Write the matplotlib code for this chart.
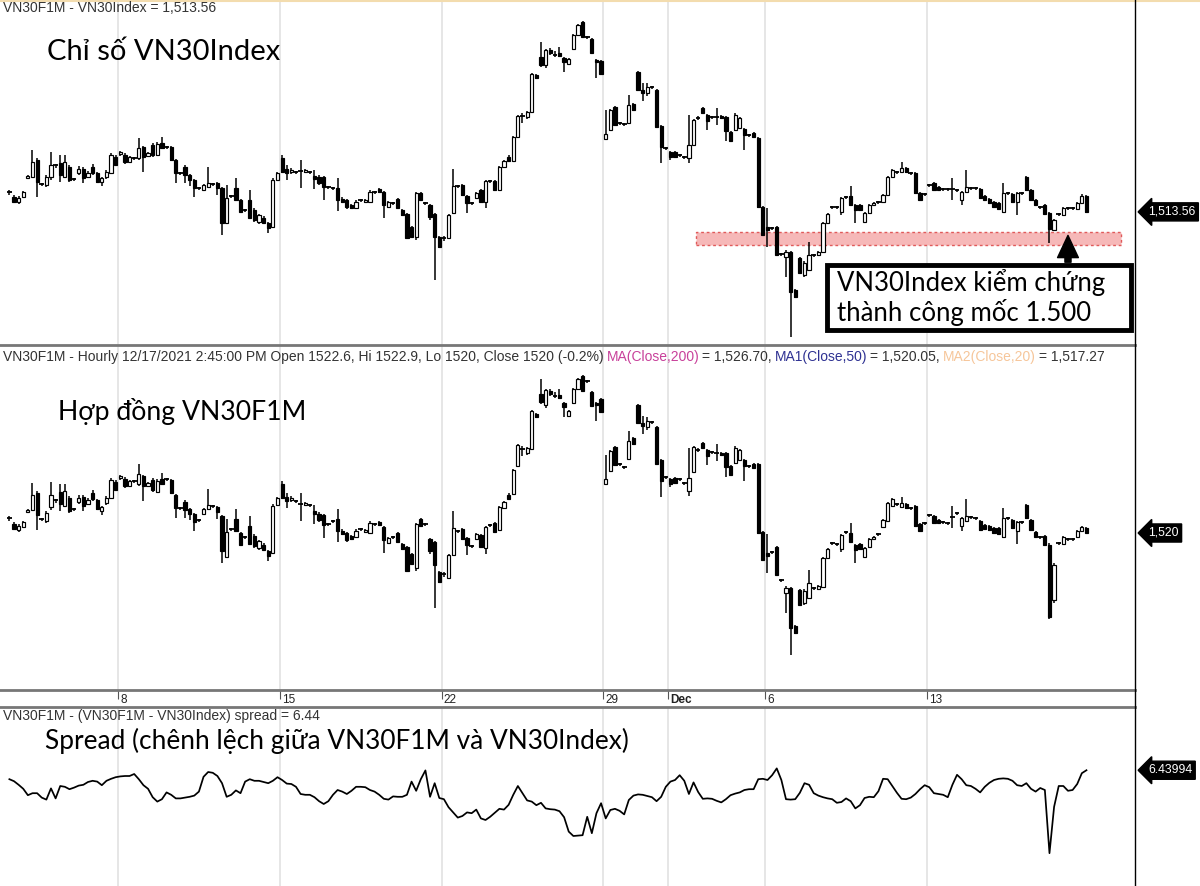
import matplotlib
matplotlib.use("Agg")
import matplotlib.pyplot as plt
from matplotlib.patches import Rectangle
from matplotlib.lines import Line2D
import matplotlib.transforms as mtransforms

W, H = 1200, 886

# ---------------------------------------------------------------- data
# hourly bars, Nov 3 - Dec 17 2021; one row of each list per week block
day_labels = ["8", "15", "22", "29", "Dec", "6", "13"]
day_breaks = [23.5, 58.5, 93.5, 128.5, 142.5, 163.5, 198.5]

vn30_open = [
    1523.5, 1521.0, 1518.5, 1521.0, 1530.5, 1531.0, 1539.5, 1527.5, 1527.0, 1531.0, 1537.0, 1538.0, 1531.0, 1536.0, 1530.0, 1533.0, 1535.0, 1531.0, 1536.0, 1533.0, 1528.5, 1531.0, 1533.0, 1541.0,
    1542.5, 1542.0, 1538.5, 1540.5, 1540.5, 1546.0, 1541.5, 1547.0, 1542.0, 1548.0, 1546.0, 1546.0, 1539.5, 1533.0, 1536.0, 1532.0, 1529.5, 1525.5, 1524.5, 1526.0, 1527.5, 1528.0, 1525.5, 1508.0, 1521.5, 1525.5, 1519.5, 1514.5, 1519.5, 1514.5, 1508.5, 1510.5, 1508.0, 1506.0, 1529.5,
    1540.5, 1535.0, 1533.5, 1533.5, 1533.5, 1533.5, 1533.5, 1531.5, 1531.0, 1531.0, 1526.0, 1525.5, 1525.5, 1520.0, 1519.5, 1517.0, 1515.5, 1519.5, 1518.5, 1518.5, 1523.5, 1525.0, 1523.5, 1516.0, 1518.0, 1520.0, 1514.5, 1512.5, 1506.0, 1501.0, 1523.0, 1518.0, 1517.0, 1512.5, 1501.0,
    1500.0, 1500.5, 1513.0, 1526.5, 1527.0, 1521.5, 1518.0, 1520.5, 1524.5, 1518.5, 1529.0, 1529.0, 1524.5, 1536.0, 1541.0, 1539.0, 1551.0, 1561.5, 1561.0, 1563.5, 1582.0, 1591.0, 1587.0, 1594.5, 1592.0, 1593.0, 1590.5, 1587.5, 1595.0, 1602.0, 1608.5, 1601.0, 1600.0, 1589.5, 1589.0,
    1550.0, 1554.5, 1566.0, 1558.0, 1557.5, 1558.0, 1567.5, 1583.5, 1574.5, 1573.0, 1576.0, 1574.5, 1556.5, 1545.5,
    1543.5, 1543.5, 1542.0, 1541.0, 1540.5, 1547.0, 1560.5, 1565.5, 1562.0, 1561.0, 1561.0, 1561.5, 1561.0, 1553.5, 1554.5, 1555.5, 1555.0, 1552.0, 1553.0, 1550.5, 1516.0,
    1506.0, 1505.5, 1506.0, 1492.5, 1491.0, 1493.5, 1474.5, 1490.5, 1482.0, 1484.5, 1492.0, 1492.0, 1493.5, 1508.0, 1516.0, 1515.5, 1513.5, 1520.5, 1521.5, 1517.0, 1517.0, 1508.5, 1513.0, 1517.0, 1518.0, 1518.5, 1522.0, 1531.0, 1533.5, 1533.5, 1535.5, 1533.0, 1533.0, 1523.0, 1522.5,
    1527.0, 1528.0, 1526.0, 1525.0, 1524.5, 1525.0, 1524.5, 1519.5, 1523.5, 1525.5, 1525.5, 1525.0, 1521.5, 1520.0, 1518.5, 1518.0, 1513.5, 1523.0, 1522.5, 1518.5, 1523.0, 1531.0, 1524.5, 1519.5, 1516.0, 1517.0, 1513.0, 1504.5, 1512.5, 1512.0, 1515.5, 1515.0, 1515.0, 1518.0, 1521.5,
]
vn30_close = [
    1523.0, 1518.5, 1520.5, 1523.5, 1531.5, 1538.5, 1528.5, 1527.0, 1531.0, 1537.0, 1536.5, 1532.0, 1538.5, 1529.5, 1529.5, 1535.0, 1530.5, 1533.0, 1533.0, 1528.5, 1530.5, 1533.5, 1542.0, 1537.0,
    1543.5, 1538.5, 1541.0, 1540.0, 1545.5, 1541.0, 1543.0, 1542.0, 1547.5, 1545.5, 1545.5, 1539.5, 1533.0, 1532.5, 1532.0, 1529.5, 1525.5, 1525.0, 1527.0, 1528.0, 1527.0, 1525.5, 1508.0, 1520.5, 1521.0, 1519.5, 1513.5, 1514.0, 1510.5, 1509.5, 1512.0, 1508.0, 1505.5, 1529.5, 1533.0,
    1533.5, 1533.0, 1534.5, 1533.0, 1534.0, 1534.5, 1533.0, 1530.0, 1528.0, 1526.0, 1525.5, 1525.0, 1519.5, 1518.5, 1516.0, 1515.5, 1518.5, 1519.0, 1519.5, 1523.5, 1523.0, 1523.5, 1517.0, 1518.5, 1517.5, 1515.5, 1512.0, 1500.5, 1501.0, 1523.0, 1519.5, 1517.5, 1511.0, 1501.0, 1496.0,
    1500.5, 1512.0, 1526.5, 1526.0, 1522.0, 1518.0, 1517.5, 1523.0, 1518.5, 1529.0, 1528.5, 1524.5, 1536.0, 1539.0, 1539.0, 1551.0, 1561.5, 1561.0, 1563.5, 1582.5, 1580.5, 1587.0, 1594.5, 1593.0, 1591.5, 1591.5, 1588.5, 1590.0, 1602.0, 1607.0, 1601.0, 1600.5, 1593.0, 1588.5, 1582.5,
    1552.5, 1564.5, 1557.0, 1557.5, 1557.0, 1567.0, 1564.5, 1574.5, 1573.0, 1576.0, 1575.5, 1556.0, 1546.0, 1545.0,
    1541.0, 1541.0, 1541.5, 1540.5, 1547.0, 1559.5, 1560.0, 1563.0, 1559.0, 1560.5, 1560.5, 1560.5, 1554.0, 1549.0, 1562.0, 1560.5, 1552.0, 1551.5, 1551.0, 1516.0, 1502.0,
    1504.5, 1505.0, 1492.0, 1492.0, 1493.5, 1473.5, 1471.0, 1483.0, 1488.0, 1492.0, 1491.5, 1493.5, 1508.0, 1512.5, 1515.5, 1516.0, 1520.5, 1521.0, 1517.0, 1514.5, 1514.5, 1513.0, 1517.0, 1518.0, 1518.5, 1522.0, 1531.0, 1534.5, 1533.0, 1535.5, 1533.5, 1532.5, 1523.0, 1519.5, 1522.0,
    1526.5, 1524.5, 1524.5, 1524.5, 1525.0, 1524.5, 1524.0, 1523.5, 1526.0, 1525.0, 1525.0, 1520.5, 1519.5, 1518.0, 1516.0, 1515.0, 1523.0, 1522.5, 1518.5, 1523.0, 1522.5, 1524.5, 1519.5, 1517.0, 1515.5, 1512.5, 1505.0, 1509.5, 1512.0, 1515.5, 1515.0, 1515.5, 1518.0, 1521.5, 1513.56,
]
vn30_high = [
    1524.5, 1522.0, 1521.5, 1524.0, 1532.0, 1544.5, 1540.5, 1528.0, 1532.0, 1543.5, 1537.5, 1542.0, 1542.0, 1537.0, 1530.5, 1536.5, 1536.0, 1534.0, 1537.5, 1533.5, 1531.0, 1534.5, 1543.0, 1542.0,
    1544.0, 1543.0, 1541.5, 1541.0, 1550.5, 1546.5, 1543.5, 1548.0, 1548.5, 1551.0, 1546.5, 1546.5, 1540.0, 1533.5, 1537.0, 1532.5, 1530.0, 1526.0, 1527.5, 1536.0, 1528.0, 1528.5, 1526.0, 1527.0, 1522.0, 1530.5, 1520.0, 1515.0, 1524.5, 1515.5, 1512.5, 1511.5, 1508.5, 1530.5, 1533.5,
    1542.0, 1537.0, 1535.5, 1534.0, 1539.5, 1535.0, 1534.0, 1534.5, 1532.0, 1531.5, 1526.5, 1526.0, 1530.5, 1521.0, 1520.0, 1517.5, 1519.5, 1520.0, 1520.0, 1524.5, 1524.0, 1525.5, 1524.0, 1519.0, 1518.5, 1520.5, 1515.0, 1513.0, 1506.5, 1523.5, 1523.5, 1518.5, 1517.5, 1513.0, 1501.5,
    1501.5, 1512.5, 1535.0, 1527.0, 1527.5, 1522.0, 1518.5, 1523.5, 1525.0, 1529.5, 1529.5, 1529.5, 1536.5, 1539.5, 1542.0, 1551.5, 1562.0, 1563.0, 1564.0, 1583.0, 1582.5, 1598.5, 1595.0, 1595.5, 1594.0, 1596.0, 1591.0, 1590.5, 1602.5, 1607.5, 1609.0, 1601.5, 1600.5, 1590.0, 1589.5,
    1564.5, 1565.0, 1566.5, 1558.5, 1558.0, 1572.0, 1568.0, 1584.0, 1578.0, 1578.0, 1576.5, 1575.0, 1557.0, 1546.0,
    1544.0, 1544.0, 1542.5, 1541.5, 1562.0, 1560.0, 1561.5, 1566.0, 1562.5, 1561.5, 1565.5, 1562.0, 1561.5, 1554.0, 1563.0, 1561.0, 1555.5, 1552.5, 1553.5, 1551.0, 1516.5,
    1515.5, 1506.0, 1506.5, 1493.0, 1494.5, 1494.0, 1475.0, 1491.0, 1489.0, 1498.5, 1492.5, 1494.0, 1508.5, 1513.0, 1516.5, 1516.5, 1521.0, 1521.5, 1526.5, 1517.5, 1517.5, 1513.5, 1517.5, 1518.5, 1519.0, 1522.5, 1531.5, 1535.0, 1534.0, 1538.5, 1536.0, 1533.5, 1533.5, 1523.5, 1523.0,
    1527.5, 1528.5, 1526.5, 1525.5, 1525.5, 1530.5, 1525.0, 1524.0, 1534.5, 1526.0, 1526.0, 1525.5, 1522.0, 1520.5, 1519.0, 1518.5, 1528.0, 1523.5, 1523.0, 1523.5, 1523.5, 1531.5, 1525.0, 1520.0, 1516.5, 1517.5, 1513.5, 1510.0, 1513.0, 1516.0, 1516.0, 1516.0, 1518.5, 1522.5, 1522.0,
]
vn30_low = [
    1522.0, 1518.0, 1517.5, 1520.5, 1530.0, 1530.5, 1521.0, 1526.5, 1526.0, 1529.5, 1535.5, 1528.5, 1530.5, 1528.5, 1529.0, 1532.0, 1528.0, 1530.5, 1532.0, 1528.0, 1526.5, 1530.0, 1532.5, 1536.5,
    1541.5, 1537.5, 1538.0, 1539.5, 1539.5, 1533.5, 1541.0, 1541.0, 1541.5, 1545.0, 1545.0, 1539.0, 1528.0, 1532.0, 1528.0, 1526.5, 1521.0, 1524.5, 1524.0, 1525.5, 1526.5, 1522.0, 1502.0, 1507.5, 1520.5, 1519.0, 1513.0, 1513.5, 1510.0, 1508.5, 1507.5, 1507.5, 1503.0, 1505.5, 1529.0,
    1533.0, 1529.5, 1532.5, 1532.5, 1525.5, 1533.0, 1532.5, 1525.0, 1527.0, 1519.5, 1525.0, 1524.5, 1514.0, 1518.0, 1515.0, 1515.0, 1515.0, 1518.5, 1518.0, 1518.0, 1522.5, 1523.0, 1510.5, 1515.5, 1517.0, 1515.0, 1511.5, 1500.0, 1500.5, 1499.5, 1519.0, 1517.0, 1509.5, 1479.5, 1495.5,
    1499.0, 1500.0, 1512.5, 1525.5, 1521.5, 1513.0, 1517.0, 1520.0, 1518.0, 1515.5, 1528.0, 1524.0, 1524.0, 1535.5, 1538.5, 1538.5, 1550.5, 1558.0, 1560.0, 1563.0, 1580.0, 1586.0, 1585.5, 1592.0, 1591.0, 1591.0, 1583.5, 1587.0, 1594.5, 1601.5, 1600.5, 1600.0, 1592.5, 1580.5, 1582.0,
    1549.5, 1554.0, 1556.5, 1557.0, 1556.5, 1557.5, 1564.0, 1574.0, 1569.0, 1571.5, 1575.0, 1555.5, 1538.0, 1544.5,
    1539.5, 1540.5, 1541.0, 1540.0, 1538.0, 1546.5, 1559.5, 1562.5, 1554.5, 1560.0, 1557.0, 1560.0, 1549.0, 1548.5, 1554.0, 1555.0, 1544.5, 1551.0, 1550.5, 1515.5, 1501.5,
    1496.0, 1504.5, 1491.5, 1491.5, 1481.0, 1451.0, 1470.5, 1482.5, 1481.0, 1484.0, 1491.0, 1491.5, 1493.0, 1507.5, 1515.0, 1515.0, 1512.0, 1520.0, 1516.5, 1508.0, 1514.0, 1508.0, 1512.5, 1516.5, 1517.5, 1518.0, 1521.5, 1530.5, 1532.5, 1533.0, 1533.0, 1532.0, 1522.5, 1519.0, 1521.5,
    1526.0, 1524.0, 1524.0, 1524.0, 1524.0, 1519.5, 1523.5, 1517.0, 1523.0, 1524.5, 1524.5, 1520.0, 1519.0, 1517.5, 1515.5, 1514.5, 1513.0, 1522.0, 1518.0, 1512.0, 1522.0, 1524.0, 1519.0, 1516.5, 1515.0, 1512.0, 1498.0, 1504.0, 1511.5, 1511.5, 1514.5, 1514.5, 1514.5, 1517.5, 1513.0,
]

f1m_open = [
    1527.5, 1524.5, 1521.5, 1523.0, 1530.5, 1531.5, 1540.0, 1527.0, 1526.0, 1533.0, 1536.5, 1540.5, 1533.5, 1537.5, 1532.0, 1535.5, 1538.0, 1534.5, 1540.0, 1536.5, 1531.0, 1535.0, 1537.5, 1545.5,
    1547.5, 1547.0, 1543.5, 1546.0, 1544.5, 1548.5, 1543.5, 1546.5, 1540.5, 1547.0, 1547.0, 1546.5, 1539.0, 1532.5, 1535.5, 1532.0, 1529.5, 1526.5, 1529.5, 1532.0, 1533.5, 1533.0, 1528.5, 1508.0, 1522.0, 1527.0, 1520.0, 1518.0, 1523.5, 1518.5, 1512.5, 1514.0, 1511.0, 1510.0, 1534.0,
    1544.5, 1538.0, 1536.5, 1536.0, 1534.0, 1534.0, 1534.0, 1531.0, 1529.5, 1529.0, 1524.5, 1526.0, 1527.0, 1521.0, 1520.0, 1518.5, 1518.0, 1522.0, 1520.5, 1520.0, 1524.5, 1525.5, 1523.0, 1515.0, 1518.0, 1520.0, 1514.5, 1513.0, 1509.5, 1502.5, 1527.0, 1524.5, 1517.0, 1515.5, 1500.5,
    1499.0, 1497.5, 1509.0, 1521.0, 1522.0, 1517.5, 1513.5, 1517.0, 1519.0, 1512.5, 1524.0, 1525.0, 1521.5, 1532.5, 1539.0, 1539.5, 1553.5, 1562.0, 1560.0, 1562.0, 1579.5, 1589.5, 1584.0, 1591.0, 1588.5, 1589.0, 1585.0, 1578.5, 1585.0, 1592.0, 1598.5, 1596.0, 1590.5, 1585.0, 1587.0,
    1544.5, 1551.0, 1563.0, 1554.5, 1553.0, 1557.0, 1567.5, 1584.0, 1575.0, 1573.0, 1575.5, 1573.0, 1556.5, 1548.0,
    1547.0, 1547.5, 1547.0, 1545.0, 1541.0, 1550.5, 1561.5, 1565.0, 1561.5, 1560.5, 1560.0, 1560.0, 1560.0, 1553.5, 1555.0, 1556.5, 1556.5, 1553.5, 1554.5, 1554.5, 1520.5,
    1510.0, 1510.5, 1513.0, 1496.5, 1490.0, 1492.5, 1473.5, 1491.5, 1485.0, 1487.5, 1492.5, 1492.0, 1493.0, 1507.5, 1515.0, 1514.0, 1512.0, 1520.0, 1520.0, 1514.0, 1514.5, 1508.0, 1513.0, 1517.0, 1519.0, 1523.0, 1526.0, 1533.5, 1534.5, 1533.0, 1534.5, 1532.5, 1533.5, 1524.5, 1525.0,
    1529.0, 1528.5, 1526.5, 1525.5, 1524.5, 1528.0, 1530.0, 1523.5, 1526.0, 1528.0, 1527.5, 1526.0, 1524.0, 1523.5, 1522.5, 1522.5, 1518.0, 1527.5, 1526.5, 1521.0, 1525.5, 1534.0, 1526.5, 1520.5, 1518.0, 1518.5, 1514.0, 1486.5, 1515.0, 1514.5, 1517.0, 1516.5, 1518.0, 1521.0, 1522.6,
]
f1m_close = [
    1527.0, 1522.0, 1523.5, 1525.5, 1531.5, 1539.0, 1529.0, 1526.5, 1530.0, 1539.0, 1536.0, 1534.5, 1541.0, 1531.0, 1531.5, 1537.5, 1533.5, 1536.5, 1537.0, 1532.0, 1533.0, 1537.5, 1546.5, 1541.5,
    1548.5, 1543.5, 1546.0, 1545.5, 1549.5, 1543.5, 1545.0, 1541.5, 1546.0, 1544.5, 1546.5, 1540.0, 1532.5, 1532.0, 1531.5, 1529.5, 1525.5, 1526.0, 1532.0, 1534.0, 1533.0, 1530.5, 1511.0, 1520.5, 1521.5, 1521.0, 1514.0, 1517.5, 1514.5, 1513.5, 1516.0, 1511.5, 1508.5, 1533.5, 1537.5,
    1537.5, 1536.0, 1537.5, 1535.5, 1534.5, 1535.0, 1533.5, 1529.5, 1526.5, 1524.0, 1524.0, 1525.5, 1521.0, 1519.5, 1516.5, 1517.0, 1521.0, 1521.5, 1521.5, 1525.0, 1524.0, 1524.0, 1516.5, 1517.5, 1517.5, 1515.5, 1512.0, 1501.0, 1504.5, 1524.5, 1523.5, 1524.0, 1511.0, 1504.0, 1495.5,
    1499.5, 1509.0, 1522.5, 1520.5, 1517.0, 1514.0, 1513.0, 1519.5, 1513.0, 1523.0, 1523.5, 1520.5, 1533.0, 1535.5, 1537.0, 1551.5, 1564.0, 1561.5, 1562.5, 1581.0, 1578.0, 1585.5, 1591.5, 1589.5, 1588.0, 1587.5, 1583.0, 1581.0, 1592.0, 1597.0, 1591.0, 1595.5, 1583.5, 1584.0, 1580.5,
    1547.0, 1561.0, 1554.0, 1554.0, 1552.5, 1566.0, 1564.5, 1575.0, 1573.5, 1576.0, 1575.0, 1554.5, 1546.0, 1547.5,
    1544.5, 1545.0, 1546.5, 1544.5, 1547.5, 1563.0, 1561.0, 1562.5, 1558.5, 1560.0, 1559.5, 1559.0, 1553.0, 1549.0, 1562.5, 1561.5, 1553.5, 1553.0, 1552.5, 1520.0, 1506.5,
    1508.5, 1510.0, 1499.0, 1496.0, 1492.5, 1472.5, 1470.0, 1484.0, 1491.0, 1495.0, 1492.0, 1493.5, 1507.5, 1512.0, 1514.5, 1514.5, 1519.0, 1520.5, 1515.5, 1511.5, 1512.0, 1512.5, 1517.0, 1518.0, 1519.5, 1526.5, 1535.0, 1537.0, 1534.0, 1535.0, 1532.5, 1532.0, 1523.5, 1521.0, 1524.5,
    1528.5, 1525.0, 1525.0, 1525.0, 1525.0, 1527.5, 1529.5, 1527.5, 1528.5, 1527.5, 1527.0, 1521.5, 1522.0, 1521.5, 1520.0, 1519.5, 1527.5, 1527.0, 1522.5, 1525.5, 1525.0, 1527.5, 1521.5, 1518.0, 1517.5, 1514.0, 1478.0, 1504.0, 1514.5, 1518.0, 1516.5, 1517.0, 1521.0, 1523.0, 1520.0,
]
f1m_high = [
    1528.5, 1525.5, 1524.5, 1526.0, 1532.0, 1545.0, 1541.0, 1527.5, 1531.0, 1545.5, 1537.0, 1544.5, 1544.5, 1538.5, 1532.5, 1539.0, 1539.0, 1537.5, 1541.5, 1537.0, 1533.5, 1538.5, 1547.5, 1546.5,
    1549.0, 1548.0, 1546.5, 1546.5, 1554.5, 1549.0, 1545.5, 1547.5, 1547.0, 1550.0, 1547.5, 1547.0, 1539.5, 1533.0, 1536.5, 1532.5, 1530.0, 1527.0, 1532.5, 1542.0, 1534.0, 1533.5, 1529.0, 1527.0, 1522.5, 1532.0, 1520.5, 1518.5, 1528.5, 1519.5, 1516.5, 1515.0, 1511.5, 1534.5, 1538.0,
    1546.0, 1540.0, 1538.5, 1536.5, 1540.0, 1535.5, 1534.5, 1534.0, 1530.5, 1529.5, 1525.0, 1526.5, 1532.0, 1522.0, 1520.5, 1519.0, 1522.0, 1522.5, 1522.0, 1526.0, 1525.0, 1526.0, 1523.5, 1518.0, 1518.5, 1520.5, 1515.0, 1513.5, 1510.0, 1525.0, 1527.5, 1525.0, 1517.5, 1516.0, 1501.0,
    1500.5, 1509.5, 1531.0, 1521.5, 1522.5, 1518.0, 1514.0, 1520.0, 1519.5, 1523.5, 1524.5, 1525.5, 1533.5, 1536.0, 1540.0, 1552.0, 1564.5, 1563.5, 1563.0, 1581.5, 1580.0, 1597.0, 1592.0, 1592.0, 1590.5, 1592.0, 1585.5, 1581.5, 1592.5, 1597.5, 1599.0, 1596.5, 1591.0, 1585.5, 1587.5,
    1559.0, 1561.5, 1563.5, 1555.0, 1553.5, 1571.0, 1568.0, 1584.5, 1578.5, 1578.0, 1576.0, 1573.5, 1557.0, 1548.5,
    1547.5, 1548.0, 1547.5, 1545.5, 1562.5, 1563.5, 1562.5, 1565.5, 1562.0, 1561.0, 1564.5, 1560.5, 1560.5, 1554.0, 1563.5, 1562.0, 1557.0, 1554.0, 1555.0, 1555.0, 1521.0,
    1519.5, 1511.0, 1513.5, 1497.0, 1493.5, 1493.0, 1474.0, 1492.0, 1492.0, 1501.5, 1493.0, 1494.0, 1508.0, 1512.5, 1515.5, 1515.0, 1519.5, 1521.0, 1525.0, 1514.5, 1515.0, 1513.0, 1517.5, 1518.5, 1520.0, 1527.0, 1535.5, 1537.5, 1535.0, 1538.0, 1535.0, 1533.0, 1534.0, 1525.0, 1525.5,
    1529.5, 1529.0, 1527.0, 1526.0, 1525.5, 1533.5, 1530.5, 1528.0, 1537.0, 1528.5, 1528.0, 1526.5, 1524.5, 1524.0, 1523.0, 1523.0, 1532.5, 1528.0, 1527.0, 1526.0, 1526.0, 1534.5, 1527.0, 1521.0, 1518.5, 1519.0, 1515.0, 1505.0, 1515.5, 1518.5, 1517.5, 1517.5, 1521.5, 1523.5, 1522.9,
]
f1m_low = [
    1526.0, 1521.5, 1520.5, 1522.5, 1530.0, 1531.0, 1521.5, 1526.0, 1525.0, 1531.5, 1535.0, 1531.0, 1533.0, 1530.0, 1531.0, 1534.5, 1531.0, 1534.0, 1536.0, 1531.5, 1529.0, 1534.0, 1537.0, 1541.0,
    1546.5, 1542.5, 1543.0, 1545.0, 1543.5, 1536.0, 1543.0, 1540.5, 1540.0, 1544.0, 1546.0, 1539.5, 1527.5, 1531.5, 1527.5, 1526.5, 1521.0, 1525.5, 1529.0, 1531.5, 1532.5, 1527.0, 1505.0, 1507.5, 1521.0, 1520.5, 1513.5, 1517.0, 1514.0, 1512.5, 1511.5, 1511.0, 1506.0, 1509.5, 1533.5,
    1537.0, 1532.5, 1535.5, 1535.0, 1526.0, 1533.5, 1533.0, 1524.5, 1525.5, 1517.5, 1523.5, 1525.0, 1515.5, 1519.0, 1515.5, 1516.5, 1517.5, 1521.0, 1520.0, 1519.5, 1523.5, 1523.5, 1510.0, 1514.5, 1517.0, 1515.0, 1511.5, 1500.5, 1504.0, 1501.0, 1523.0, 1523.5, 1509.5, 1482.5, 1495.0,
    1498.0, 1497.0, 1508.5, 1520.0, 1516.5, 1509.0, 1512.5, 1516.5, 1512.5, 1509.5, 1523.0, 1520.0, 1521.0, 1532.0, 1536.5, 1539.0, 1553.0, 1558.5, 1559.0, 1561.5, 1577.5, 1584.5, 1582.5, 1588.5, 1587.5, 1587.0, 1578.0, 1578.0, 1584.5, 1591.5, 1590.5, 1595.0, 1583.0, 1576.0, 1580.0,
    1544.0, 1550.5, 1553.5, 1553.5, 1552.0, 1556.5, 1564.0, 1574.5, 1569.5, 1571.5, 1574.5, 1554.0, 1538.0, 1547.0,
    1543.0, 1544.5, 1546.0, 1544.0, 1538.5, 1550.0, 1560.5, 1562.0, 1554.0, 1559.5, 1556.0, 1558.5, 1548.0, 1548.5, 1554.5, 1556.0, 1546.0, 1552.5, 1552.0, 1519.5, 1506.0,
    1500.0, 1509.5, 1498.5, 1495.5, 1480.0, 1459.0, 1469.5, 1483.5, 1484.0, 1487.0, 1491.5, 1491.5, 1492.5, 1507.0, 1514.0, 1513.5, 1510.5, 1519.5, 1515.0, 1505.0, 1511.5, 1507.5, 1512.5, 1516.5, 1518.5, 1522.5, 1525.5, 1533.0, 1533.5, 1532.5, 1532.0, 1531.5, 1523.0, 1520.5, 1524.0,
    1528.0, 1524.5, 1524.5, 1524.5, 1524.0, 1522.5, 1529.0, 1521.0, 1525.5, 1527.0, 1526.5, 1521.0, 1521.5, 1521.0, 1519.5, 1519.0, 1517.5, 1526.5, 1522.0, 1514.5, 1524.5, 1527.0, 1521.0, 1517.5, 1517.0, 1513.5, 1477.0, 1485.0, 1514.0, 1514.0, 1516.0, 1516.0, 1517.5, 1520.5, 1520.0,
]

spread = [
    4.2, 3.7, 2.8, 1.8, 0.2, 0.7, 0.7, -0.4, -0.9, 1.9, -0.6, 2.5, 2.3, 1.7, 2.1, 2.6, 2.8, 3.5, 3.8, 3.6, 2.7, 3.8, 4.3, 4.7,
    4.9, 5.0, 5.0, 5.5, 4.2, 2.7, 1.8, -0.3, -1.4, -0.8, 0.9, 0.3, -0.6, -0.6, -0.4, -0.2, 0.1, 1.1, 4.8, 6.0, 5.8, 5.0, 3.2, -0.2, 0.3, 1.4, 0.7, 3.6, 4.2, 3.8, 3.8, 3.5, 3.2, 3.8, 4.7,
    4.0, 3.1, 3.0, 2.3, 0.5, 0.3, 0.3, -0.3, -1.3, -2.0, -1.3, 0.3, 1.5, 1.1, 0.5, 1.3, 2.3, 2.3, 2.2, 1.5, 1.1, 0.3, -0.7, -0.9, -0.1, -0.2, -0.2, 0.3, 3.6, 1.3, 4.2, 6.4, -0.2, 3.2, -0.5,
    -0.8, -2.8, -4.1, -5.4, -5.0, -4.1, -4.3, -3.4, -5.6, -6.0, -5.2, -4.2, -3.2, -3.4, -2.2, 0.3, 2.5, 0.7, -1.1, -1.4, -2.3, -1.7, -3.1, -3.3, -3.4, -3.8, -5.3, -8.9, -10.0, -9.9, -9.8, -5.2, -9.3, -4.3, -1.8,
    -5.6, -3.5, -3.2, -3.7, -4.6, -1.0, 0.1, 0.4, 0.3, 0.0, -0.3, -1.3, -0.2, 2.3,
    3.6, 4.0, 5.2, 3.8, 0.5, 3.4, 1.0, -0.7, -0.6, -0.7, -1.2, -1.6, -0.8, 0.2, 0.6, 0.9, 1.5, 1.7, 1.7, 4.2, 4.3,
    4.0, 5.2, 6.9, 4.0, -0.8, -0.9, -0.8, 0.8, 3.2, 2.8, 0.7, 0.1, -0.3, -0.6, -0.8, -1.7, -1.5, -0.6, -1.3, -3.1, -2.3, -0.5, -0.2, -0.3, 1.2, 4.3, 4.2, 2.5, 0.8, -0.7, -0.8, -0.4, 0.5, 1.7, 2.7,
    2.2, 0.7, 0.5, 0.3, -0.3, 2.8, 5.3, 4.2, 2.7, 2.5, 1.8, 0.9, 2.3, 3.3, 4.0, 4.3, 4.4, 4.3, 3.8, 2.7, 2.5, 3.2, 1.8, 1.1, 2.0, 1.5, -14.3, -2.7, 2.5, 2.5, 1.3, 1.5, 3.0, 5.7, 6.44,
]

support_zone = (1497.0, 1503.5)     # "mốc 1.500"
last_vn30 = "1,513.56"
last_f1m = "1,520"
last_spread = "6.43994"

# ---------------------------------------------------------------- layout
fig = plt.figure(figsize=(W / 100, H / 100), dpi=100)
fig.patch.set_facecolor("white")
plot_w = 1135 / W


def px_rect(top, bottom):
    return [0, 1 - bottom / H, plot_w, (bottom - top) / H]


ax1 = fig.add_axes(px_rect(0, 345))
ax2 = fig.add_axes(px_rect(345, 690))
axd = fig.add_axes(px_rect(690, 707))
ax3 = fig.add_axes(px_rect(707, 886))

x_lo, x_hi = -2.03, 243.5
for ax in (ax1, ax2, axd, ax3):
    ax.set_xlim(x_lo, x_hi)
    ax.set_axis_off()
    if ax is not axd:
        for b in day_breaks:
            ax.axvline(b, color="#e2e2e2", lw=1.2, zorder=0)

ax1.set_ylim(1447.0, 1619.5)
ax2.set_ylim(1441.5, 1614.0)
axd.set_ylim(0, 1)
ax3.set_ylim(-22.5, 22.25)


def candles(ax, o, h, l, c):
    xs = list(range(len(o)))
    ax.vlines(xs, l, h, color="black", lw=1.1, zorder=2)
    body_x, body_b, body_h, body_c = [], [], [], []
    doji_x, doji_y = [], []
    for i in xs:
        lo, hi = min(o[i], c[i]), max(o[i], c[i])
        if hi - lo < 0.6:
            doji_x.append(i)
            doji_y.append((o[i] + c[i]) / 2)
        else:
            body_x.append(i)
            body_b.append(lo)
            body_h.append(hi - lo)
            body_c.append("black" if c[i] < o[i] else "white")
    ax.bar(body_x, body_h, bottom=body_b, width=0.7, color=body_c,
           edgecolor="black", linewidth=0.85, zorder=3)
    ax.hlines(doji_y, [x - 0.5 for x in doji_x], [x + 0.5 for x in doji_x],
              color="black", lw=1.3, zorder=3)


candles(ax1, vn30_open, vn30_high, vn30_low, vn30_close)
candles(ax2, f1m_open, f1m_high, f1m_low, f1m_close)
ax3.plot(range(len(spread)), spread, color="black", lw=1.25, zorder=3)

# support band + call-out on the index panel
ax1.add_patch(Rectangle((148.5, support_zone[0]), 91.9, support_zone[1] - support_zone[0],
                        facecolor="#f6b8b8", edgecolor="#e05a5a", lw=1.0,
                        linestyle=(0, (2, 2)), zorder=1))
ax1.add_patch(Rectangle((176.9, 1454.6), 65.7, 32.4, facecolor="white",
                        edgecolor="black", lw=3.5, zorder=6, clip_on=False))
big_font = ["Lato", "Noto Sans"]
ax1.text(179.0, 1470.8, "VN30Index kiểm chứng\nthành công mốc 1.500", fontsize=18.5,
         family=big_font, va="center", ha="left", linespacing=1.15, zorder=7)
ax1.annotate("", xy=(229.0, 1503.2), xytext=(229.0, 1487.0),
             arrowprops=dict(arrowstyle="simple,head_width=0.75,head_length=0.8,tail_width=0.22",
                             fc="black", ec="black", mutation_scale=20), zorder=7)

# titles
fig.text(47 / W, 1 - 52 / H, "Chỉ số VN30Index", fontsize=21, family=big_font, va="center")
fig.text(58 / W, 1 - 412 / H, "Hợp đồng VN30F1M", fontsize=19.2, family=big_font, va="center")
fig.text(45 / W, 1 - 741 / H, "Spread (chênh lệch giữa VN30F1M và VN30Index)", fontsize=18.9,
         family=big_font, va="center")

# small header lines
small = dict(fontsize=10, family="Liberation Sans", va="center", ha="left")
renderer = fig.canvas.get_renderer()


def header(x_px, y_px, parts):
    x = x_px
    for text, col, gap in parts:
        t = fig.text(x / W, 1 - y_px / H, text, color=col, **small)
        x += t.get_window_extent(renderer=renderer).width + gap


header(3, 8, [("VN30F1M - VN30Index = 1,513.56", "#333333", 0)])
header(3, 357, [
    ("VN30F1M - Hourly 12/17/2021 2:45:00 PM Open 1522.6, Hi 1522.9, Lo 1520, Close 1520 (-0.2%)", "#333333", 3),
    ("MA(Close,200)", "#c8409a", 3), ("= 1,526.70,", "#333333", 3),
    ("MA1(Close,50)", "#2e3192", 3), ("= 1,520.05,", "#333333", 3),
    ("MA2(Close,20)", "#f6c69a", 3), ("= 1,517.27", "#333333", 0),
])
header(3, 716, [("VN30F1M - (VN30F1M - VN30Index) spread = 6.44", "#333333", 0)])

# date strip
axd.vlines(day_breaks, 0.45, 1.0, color="#555555", lw=0.8)
for b, lab in zip(day_breaks, day_labels):
    axd.text(b + 0.45, 0.42, lab, fontsize=8.5, family="Liberation Sans", va="center", ha="left",
             fontweight="bold" if lab == "Dec" else "normal", color="#222222")

# last-value flags on the price scale
flag = dict(fontsize=8.8, family="Liberation Sans", color="white", va="center", ha="left",
            bbox=dict(boxstyle="larrow,pad=0.25", fc="black", ec="black"), clip_on=False)
for ax, val, lab in ((ax1, vn30_close[-1], last_vn30), (ax2, f1m_close[-1], last_f1m),
                     (ax3, spread[-1], last_spread)):
    tr = mtransforms.blended_transform_factory(ax.transAxes, ax.transData)
    ax.text(1.0115, val, lab, transform=tr, **flag)

# panel frames
def hline(y_px, color, lw, x1=1135):
    fig.add_artist(Line2D([0, x1 / W], [1 - y_px / H] * 2, color=color, lw=lw))


hline(0.5, "#f3dcae", 1.5, 1200)
hline(345, "#777777", 2.0)
hline(690, "#777777", 2.0)
hline(707, "#777777", 2.0)
fig.add_artist(Line2D([1135 / W] * 2, [0, 1], color="black", lw=1.0))

fig.savefig("out.png", dpi=100, facecolor="white")
